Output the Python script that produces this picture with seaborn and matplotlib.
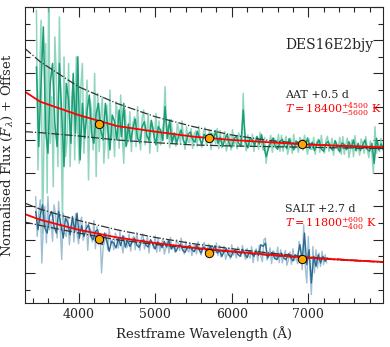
import numpy as np
import seaborn as sns
import matplotlib
matplotlib.use("Agg")
import matplotlib.pyplot as plt
from matplotlib.ticker import MultipleLocator, NullFormatter

# AAT spectrum (+0.5 d), raw and binned, offset flux
aat_raw_start, aat_raw_step = 3450, 20
aat_raw = [7.9, 3.1, 5.8, 7.6, 1.2, 4.3, 6.9, 2.4, 8.4, 3.9,
           5.3, 2.6, 7.1, 5.9, 3.2, 7.7, 4.4, 1.6, 6.5, 3.5,
           4.0, 6.3, 3.2, 5.2, 5.8, 3.4, 6.5, 4.3, 3.3, 5.6,
           6.3, 3.6, 4.5, 5.8, 2.8, 5.2, 4.9, 3.7, 6.0, 2.9,
           5.4, 3.65, 4.65, 5.3, 3.3, 4.1, 5.05, 3.45, 5.5, 4.0,
           4.5, 3.5, 5.15, 4.7, 3.75, 5.35, 4.15, 3.3, 4.9, 3.85,
           4.0, 4.85, 3.65, 4.5, 4.7, 3.8, 5.0, 4.15, 3.7, 4.65,
           4.9, 3.85, 4.2, 4.8, 3.6, 4.55, 4.4, 3.95, 4.8, 3.65,
           4.57, 3.85, 4.26, 4.53, 5.6, 4.03, 4.44, 3.77, 4.62, 3.99,
           4.21, 3.81, 4.49, 4.3, 3.9, 4.57, 4.08, 3.72, 4.4, 3.95,
           3.92, 4.34, 3.75, 4.17, 4.27, 3.82, 4.41, 3.99, 3.78, 4.23,
           4.37, 3.85, 4.02, 4.3, 3.71, 4.2, 4.13, 3.89, 4.34, 3.74,
           4.28, 3.77, 4.05, 4.25, 3.67, 3.9, 4.18, 3.7, 4.31, 3.86,
           4.02, 3.73, 4.21, 4.09, 3.8, 5.4, 3.93, 3.67, 4.15, 3.83,
           3.81, 4.17, 3.66, 4.02, 4.11, 3.72, 4.23, 3.87, 3.69, 4.08,
           3.3, 3.75, 3.9, 4.14, 3.63, 4.05, 3.99, 3.78, 4.17, 3.66,
           4.14, 3.66, 3.93, 4.11, 3.57, 3.78, 4.05, 3.6, 4.17, 3.75,
           3.9, 3.63, 4.08, 3.96, 3.69, 4.14, 3.81, 3.57, 4.02, 3.72,
           3.72, 4.08, 3.57, 3.93, 4.02, 3.63, 4.14, 3.78, 3.6, 3.99,
           4.11, 3.66, 3.81, 4.05, 3.54, 3.96, 3.9, 3.69, 4.08, 3.57,
           4.1, 3.57, 3.87, 4.06, 3.47, 3.7, 4.0, 3.5, 4.13, 3.67,
           3.83, 3.54, 4.03, 3.9, 3.6, 4.1, 3.73, 3.47, 3.97, 3.63,
           3.0, 4.4, 3.6, 3.95, 3.65, 4.05, 3.7, 3.9]
aat_bin_start, aat_bin_step = 3450, 30
aat_bin = [6.2, 3.8, 5.7, 7.4, 4.3, 3.6, 5.7, 6.3, 4.5, 3.8,
           6.3, 4.8, 3.2, 5.7, 5.2, 3.9, 6.0, 4.2, 6.5, 3.4,
           5.1, 4.05, 4.85, 5.35, 4.2, 3.9, 4.8, 5.1, 4.3, 4.0,
           5.1, 4.4, 3.7, 4.75, 4.55, 4.0, 4.9, 4.1, 5.1, 3.8,
           4.48, 3.95, 4.36, 4.63, 4.06, 3.91, 4.4, 4.55, 4.14, 3.98,
           4.59, 4.2, 3.85, 4.4, 4.3, 3.98, 5.0, 4.05, 4.6, 3.9,
           4.21, 3.9, 4.15, 4.3, 3.97, 3.88, 4.17, 4.24, 4.01, 3.93,
           4.26, 4.06, 3.86, 4.17, 4.1, 3.95, 4.2, 3.99, 4.28, 3.9,
           4.08, 3.8, 4.02, 4.16, 3.86, 3.78, 4.04, 4.12, 3.9, 3.82,
           4.9, 3.94, 3.76, 4.06, 4.0, 3.84, 4.1, 3.88, 4.16, 3.8,
           3.5, 3.74, 3.93, 4.06, 3.79, 3.72, 3.95, 4.02, 3.83, 3.75,
           4.04, 3.86, 3.7, 3.97, 3.92, 3.77, 4.0, 3.81, 4.06, 3.74,
           3.93, 3.68, 3.87, 4.0, 3.73, 3.66, 3.89, 3.96, 3.77, 3.69,
           3.98, 3.8, 3.64, 3.91, 3.86, 3.71, 3.95, 3.75, 4.0, 3.68,
           3.9, 3.68, 3.85, 4.0, 3.72, 3.66, 3.9, 3.3, 4.05, 3.7,
           3.88, 3.75]

# SALT spectrum (+2.7 d)
salt_raw_start, salt_raw_step = 3440, 20
salt_raw = [2.3, 1.1, 1.8, 2.2, 0.3, 1.4, 2.0, 0.9, 2.3, 1.3,
            1.6, 0.95, 2.05, 1.75, 1.05, 2.15, 1.35, 0.4, 1.8, 1.2,
            1.1, 1.7, 0.85, 1.43, 1.58, 0.93, 1.78, 1.18, 0.88, 1.53,
            1.68, 0.98, 1.18, 1.53, 0.68, 1.38, 1.28, 0.93, 1.58, 0.73,
            1.4, 0.85, 1.2, 0.0, 0.75, 0.95, 1.2, 0.7, 1.35, 0.85,
            1.0, 0.7, 1.2, 1.05, 0.75, 1.25, 0.9, 0.6, 1.1, 0.75,
            0.8, 1.17, 0.66, 1.02, 1.1, 0.7, 1.22, 0.86, 0.68, 1.05,
            1.17, 0.72, 0.87, 1.1, 0.6, 1.0, 0.94, 0.74, 1.12, 0.62,
            1.05, 0.65, 0.87, 1.02, 0.57, 0.75, 0.97, 0.6, 1.07, 0.72,
            0.85, 0.62, 1.0, 0.9, 0.67, 1.05, 0.77, 0.57, 0.95, 0.7,
            0.63, 0.9, 0.52, 0.79, 0.85, 0.57, 0.94, 0.68, 0.54, 0.83,
            0.92, 0.59, 0.7, 0.87, 0.5, 0.81, 0.76, 0.61, 0.9, 0.52,
            0.83, 0.48, 0.67, 0.81, 0.41, 0.56, 0.76, 0.43, 0.85, 0.54,
            0.65, 0.45, 0.78, 0.7, 0.5, 0.83, 0.59, 0.41, 0.74, 0.52,
            0.45, 0.8, 0.31, 0.64, 0.73, 0.36, 0.84, 0.5, 0.34, 1.0,
            1.05, 0.39, 0.53, 0.76, 0.28, 0.67, 0.62, 0.42, 0.78, 0.31,
            0.7, 0.3, 0.53, 0.68, 0.23, 0.4, 0.63, 0.26, 0.73, 0.38,
            0.5, 0.28, 0.95, 0.75, 0.1, 1.45, 0.2, -0.3, 1.1, 0.1,
            -0.65, 0.8, 0.0, 0.7, 0.15, 0.6, 0.2, 0.65, 0.25, 0.55,
            0.3]
salt_bin_start, salt_bin_step = 3440, 30
salt_bin = [1.85, 1.3, 1.75, 2.05, 1.35, 1.2, 1.7, 1.85, 1.4, 1.2,
            1.85, 1.45, 1.05, 1.65, 1.5, 1.15, 1.7, 1.25, 1.8, 1.05,
            1.43, 1.1, 1.33, 1.45, 1.1, 1.0, 1.25, 1.3, 0.9, 0.85,
            1.2, 0.95, 0.65, 0.95, 0.9, 0.75, 1.05, 0.82, 1.12, 0.78,
            0.99, 0.8, 0.94, 1.05, 0.84, 0.77, 0.95, 1.0, 0.84, 0.78,
            1.0, 0.86, 0.72, 0.93, 0.88, 0.76, 0.95, 0.78, 0.98, 0.72,
            0.82, 0.64, 0.78, 0.87, 0.68, 0.62, 0.78, 0.83, 0.7, 0.64,
            0.84, 0.72, 0.6, 0.78, 0.74, 0.64, 0.8, 0.66, 0.82, 0.6,
            0.68, 0.5, 0.64, 0.73, 0.54, 0.48, 0.65, 0.7, 0.56, 0.5,
            0.71, 0.58, 0.46, 0.65, 0.6, 0.5, 0.67, 0.53, 0.85, 0.8,
            0.9, 0.45, 0.58, 0.62, 0.44, 0.4, 0.56, 0.6, 0.45, 0.4,
            0.58, 0.47, 0.36, 0.55, 0.5, 0.85, 0.35, 1.2, 0.25, 0.7,
            -0.3, 0.5, 0.2, 0.55, 0.3, 0.5, 0.35, 0.45]

# blackbody fits (best and T range)
bb_wave = [3300, 3500, 4000, 4500, 5000, 5500, 6000, 6500, 7000, 7500, 8000]
aat_bb = [5.45, 5.15, 4.75, 4.42, 4.25, 4.1, 4.0, 3.93, 3.86, 3.82, 3.78]
aat_bb_hi = [6.75, 6.35, 5.6, 5.1, 4.7, 4.4, 4.15, 3.98, 3.88, 3.8, 3.74]
aat_bb_lo = [4.25, 4.22, 4.12, 4.0, 3.92, 3.85, 3.82, 3.8, 3.78, 3.76, 3.74]
salt_bb = [1.77, 1.6, 1.3, 1.07, 0.9, 0.76, 0.65, 0.55, 0.46, 0.39, 0.33]
salt_bb_hi = [2.1, 1.92, 1.58, 1.3, 1.07, 0.88, 0.73, 0.6, 0.48, 0.4, 0.33]
salt_bb_lo = [1.53, 1.43, 1.2, 1.0, 0.86, 0.74, 0.63, 0.53, 0.45, 0.38, 0.32]

# synthetic photometry points
phot_wave = [4270, 5700, 6920]
aat_phot = [4.47, 4.05, 3.87]
salt_phot = [1.02, 0.6, 0.42]


def grid(start, step, vals):
    return start + step * np.arange(len(vals))


sns.set_style("ticks")
plt.rcParams["font.family"] = ["DejaVu Serif"]
plt.rcParams["mathtext.fontset"] = "dejavuserif"

fig = plt.figure(figsize=(3.9, 3.47), dpi=100)
ax = fig.add_axes([0.064, 0.127, 0.918, 0.853])

green, lgreen = "#1a9e78", "#74cbad"
blue, lblue = "#2a6a92", "#86aec8"

sns.lineplot(x=grid(aat_raw_start, aat_raw_step, aat_raw), y=aat_raw, ax=ax,
             color=lgreen, lw=1.1, alpha=0.8, estimator=None, sort=False)
sns.lineplot(x=grid(aat_bin_start, aat_bin_step, aat_bin), y=aat_bin, ax=ax,
             color=green, lw=1.1, estimator=None, sort=False)
sns.lineplot(x=grid(salt_raw_start, salt_raw_step, salt_raw), y=salt_raw, ax=ax,
             color=lblue, lw=1.0, alpha=0.8, estimator=None, sort=False)
sns.lineplot(x=grid(salt_bin_start, salt_bin_step, salt_bin), y=salt_bin, ax=ax,
             color=blue, lw=1.0, estimator=None, sort=False)

for hi, lo in [(aat_bb_hi, aat_bb_lo), (salt_bb_hi, salt_bb_lo)]:
    sns.lineplot(x=bb_wave, y=hi, ax=ax, color="0.2", lw=0.9, ls="-.")
    sns.lineplot(x=bb_wave, y=lo, ax=ax, color="0.2", lw=0.9, ls="-.")
for bb in [aat_bb, salt_bb]:
    sns.lineplot(x=bb_wave, y=bb, ax=ax, color="red", lw=1.3)

for ph in [aat_phot, salt_phot]:
    sns.scatterplot(x=phot_wave, y=ph, ax=ax, color="orange", edgecolor="k",
                    s=36, linewidth=0.7, zorder=5)

ax.text(6700, 6.85, "DES16E2bjy", fontsize=10, va="center")
ax.text(6700, 5.35, "AAT +0.5 d", fontsize=8, va="center")
ax.text(6700, 4.92, r"$T = 18400^{+4500}_{-5600}$ K", fontsize=8,
        va="center", color="red")
ax.text(6700, 1.92, "SALT +2.7 d", fontsize=8, va="center")
ax.text(6700, 1.5, r"$T = 11800^{+600}_{-400}$ K", fontsize=8,
        va="center", color="red")

ax.set_xlim(3300, 7975)
ax.set_ylim(-0.9, 8.0)
ax.xaxis.set_major_locator(MultipleLocator(1000))
ax.xaxis.set_minor_locator(MultipleLocator(200))
ax.yaxis.set_major_locator(MultipleLocator(1))
ax.yaxis.set_minor_locator(MultipleLocator(0.5))
ax.yaxis.set_major_formatter(NullFormatter())
ax.tick_params(which="both", direction="in", top=True, right=True,
               labelsize=9, width=0.8)
ax.tick_params(which="major", length=7)
ax.tick_params(which="minor", length=3.5)
ax.set_xlabel("Restframe Wavelength (Å)", fontsize=9.5)
ax.set_ylabel(r"Normalised Flux ($F_\lambda$) + Offset", fontsize=9.5)

fig.savefig("out.png", dpi=100)
